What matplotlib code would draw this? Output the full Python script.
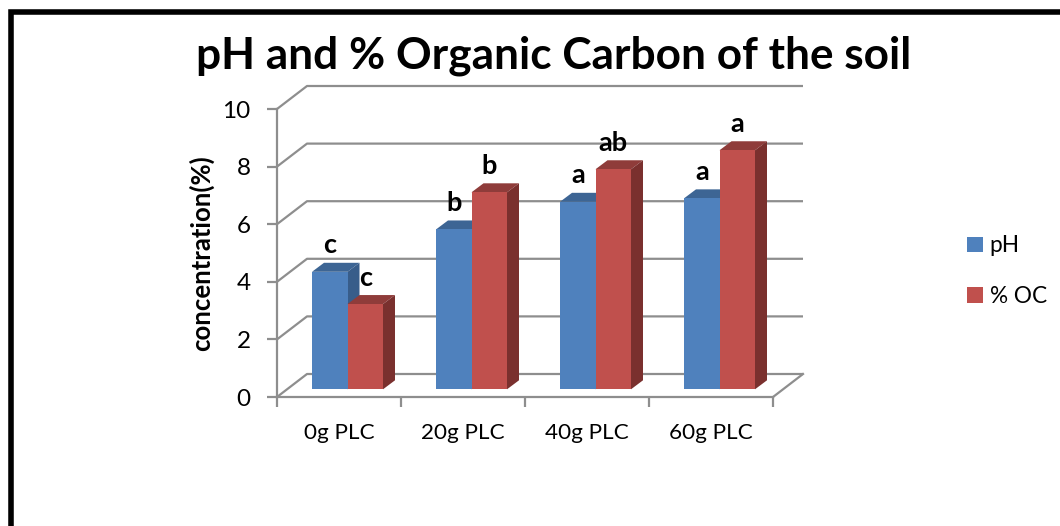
import numpy as np
import matplotlib
matplotlib.use("Agg")
import matplotlib.pyplot as plt
from matplotlib.patches import Rectangle

plt.rcParams['font.family'] = ['Lato', 'DejaVu Sans']

# data
categories = ['0g PLC', '20g PLC', '40g PLC', '60g PLC']
ph_values = [4.08, 5.55, 6.51, 6.63]
oc_values = [2.96, 6.84, 7.64, 8.30]
ph_letters = ['c', 'b', 'a', 'a']
oc_letters = ['c', 'b', 'ab', 'a']
y_ticks = [0, 2, 4, 6, 8, 10]

W, H = 1060, 526
fig = plt.figure(figsize=(W / 100, H / 100), dpi=100, facecolor='white')

# plot box in pixels
left, right, top, bottom = 277, 773, 109, 397
ax = fig.add_axes([left / W, 1 - bottom / H, (right - left) / W, (bottom - top) / H])
ax.set_xlim(0, 4)
ax.set_ylim(0, 10)
ax.patch.set_visible(False)

px = 4 / (right - left)      # one pixel in x units
py = 10 / (bottom - top)     # one pixel in y units
grey = '#8e8e8e'

# fake 3d floor and back wall
wall_x, wall_y = 30 * px, 23 * py
for v in y_ticks:
    ax.plot([0, wall_x, 4 + wall_x], [v, v + wall_y, v + wall_y], color=grey, lw=1.6,
            clip_on=False, zorder=1, solid_capstyle='butt')
ax.plot([4, 4 + wall_x], [0, wall_y], color=grey, lw=1.6, clip_on=False, zorder=1)

# bars, one category at a time so each group sits over the last one
bar_w = 35.5 * px
start = 35 * px
base = 7.7 * py
depth_x, depth_y = 12 * px, 9 * py
series = [
    (start, ph_values, ph_letters, ('#4f81bd', '#3d6594', '#385d8a'), 'pH'),
    (start + bar_w, oc_values, oc_letters, ('#c0504d', '#8f3c3a', '#7a302e'), '% OC'),
]
for i in range(4):
    for x0, vals, lets, cols, lab in series:
        x = i + x0
        t = base + vals[i]
        ax.fill([x, x + depth_x, x + bar_w + depth_x, x + bar_w],
                [t, t + depth_y, t + depth_y, t], color=cols[1], lw=0, zorder=3, clip_on=False)
        ax.fill([x + bar_w, x + bar_w + depth_x, x + bar_w + depth_x, x + bar_w],
                [base, base + depth_y, t + depth_y, t], color=cols[2], lw=0, zorder=3, clip_on=False)
        ax.bar(x, vals[i], bar_w, bottom=base, align='edge', color=cols[0],
               label=lab if i == 0 else None, zorder=3, clip_on=False)
        ax.annotate(lets[i], (x + bar_w / 2, t), xytext=(0, 19), textcoords='offset points',
                    ha='center', va='center', fontsize=19.5, fontweight='bold', zorder=5)

# axes
for s in ['top', 'right']:
    ax.spines[s].set_visible(False)
for s in ['left', 'bottom']:
    ax.spines[s].set_color(grey)
    ax.spines[s].set_linewidth(1.6)
ax.set_yticks(y_ticks)
ax.set_xticks(range(5))
ax.set_xticklabels([])
ax.set_xticks(np.arange(4) + 0.5, labels=categories, minor=True)
ax.tick_params(axis='y', length=7, width=1.6, color=grey, labelsize=17.5, pad=12)
ax.tick_params(axis='x', which='major', length=7, width=1.6, color=grey)
ax.tick_params(axis='x', which='minor', length=0, labelsize=16.2, pad=18.5)

ax.set_ylabel('concentration(%)', fontsize=18.5, fontweight='bold')
ax.yaxis.set_label_coords((214 - left) / (right - left), (bottom - 253) / (bottom - top))

fig.text(554 / W, 1 - 56 / H, 'pH and % Organic Carbon of the soil', fontsize=31.8, fontweight='bold',
         ha='center', va='center')

fig.legend(loc='center left', bbox_to_anchor=(947 / W, 1 - 271 / H), frameon=False, fontsize=16.3,
           labelspacing=1.3, handlelength=0.68, handleheight=0.68, handletextpad=0.3)

# black frame, runs off the right and bottom of the image
fig.add_artist(Rectangle((11 / W, -0.1), 1.2, 1.1 - 12 / H,
                         transform=fig.transFigure, fill=False, edgecolor='black', lw=4))

fig.savefig('out.png', dpi=100)
